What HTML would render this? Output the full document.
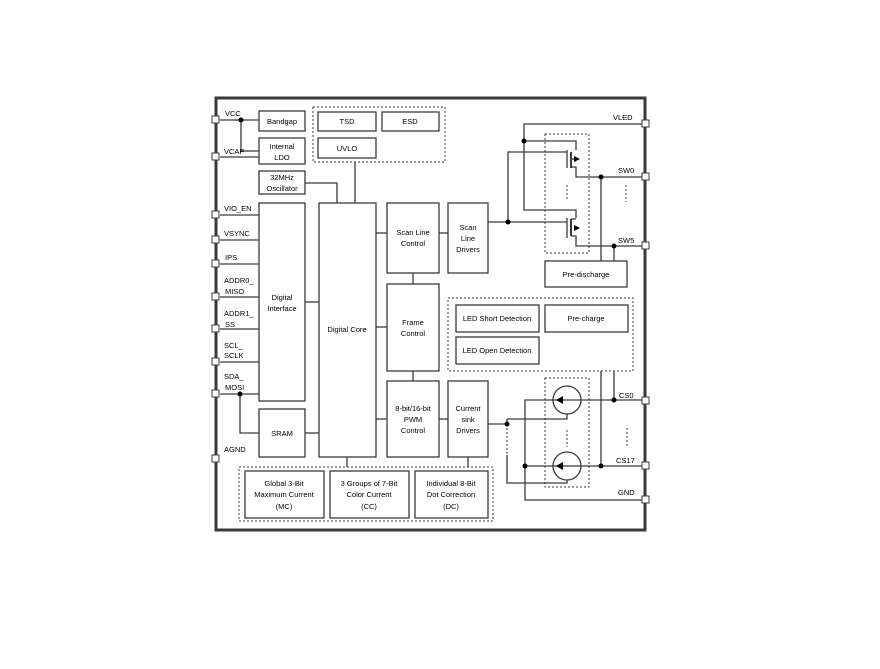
<!DOCTYPE html>
<html><head><style>
html,body{margin:0;padding:0;background:#fff;}
svg{display:block;}
text{font-family:"Liberation Sans",sans-serif;font-size:7.5px;fill:#000;}
</style></head><body>
<svg width="880" height="669" viewBox="0 0 880 669" xmlns="http://www.w3.org/2000/svg">
<g fill="none" stroke="#3a3a3a" stroke-width="1.3">
<rect x="216" y="98" width="429" height="432" stroke-width="3"/>
<!-- dotted groups -->
<g stroke-dasharray="2,2" stroke-width="1">
<rect x="313" y="107" width="132" height="55"/>
<rect x="239" y="467" width="254" height="54"/>
<rect x="448" y="298" width="185" height="73"/>
<rect x="545" y="134" width="44" height="119"/>
<rect x="545" y="378" width="44" height="109"/>
<line x1="567" y1="185" x2="567" y2="200"/>
<line x1="626" y1="185" x2="626" y2="202"/>
<line x1="627" y1="428" x2="627" y2="446"/>
<line x1="567" y1="430" x2="567" y2="447"/>
<line x1="507" y1="424" x2="507" y2="455"/>
<line x1="525" y1="420" x2="525" y2="455"/>
</g>
<!-- boxes -->
<rect x="259" y="111" width="46" height="20"/>
<rect x="259" y="138" width="46" height="26"/>
<rect x="318" y="112" width="58" height="19"/>
<rect x="382" y="112" width="57" height="19"/>
<rect x="318" y="138" width="58" height="20"/>
<rect x="259" y="171" width="46" height="23"/>
<rect x="259" y="203" width="46" height="198"/>
<rect x="319" y="203" width="57" height="254"/>
<rect x="387" y="203" width="52" height="70"/>
<rect x="387" y="284" width="52" height="87"/>
<rect x="387" y="381" width="52" height="76"/>
<rect x="448" y="203" width="40" height="70"/>
<rect x="448" y="381" width="40" height="76"/>
<rect x="259" y="409" width="46" height="48"/>
<rect x="245" y="471" width="79" height="47"/>
<rect x="330" y="471" width="79" height="47"/>
<rect x="415" y="471" width="73" height="47"/>
<rect x="456" y="305" width="83" height="27"/>
<rect x="545" y="305" width="83" height="27"/>
<rect x="456" y="337" width="83" height="27"/>
<rect x="545" y="261" width="82" height="26"/>
<!-- left wiring -->
<polyline points="220,120 259,120"/>
<polyline points="241,120 241,151 259,151"/>
<polyline points="220,157 259,157"/>
<polyline points="305,183 337,183 337,203"/>
<polyline points="355,162 355,203"/>
<line x1="220" y1="215" x2="259" y2="215"/>
<line x1="220" y1="240" x2="259" y2="240"/>
<line x1="220" y1="264" x2="259" y2="264"/>
<line x1="220" y1="297" x2="259" y2="297"/>
<line x1="220" y1="329" x2="259" y2="329"/>
<line x1="220" y1="362" x2="259" y2="362"/>
<line x1="220" y1="394" x2="259" y2="394"/>
<polyline points="240,394 240,433 259,433"/>
<line x1="305" y1="302" x2="319" y2="302"/>
<line x1="305" y1="433" x2="319" y2="433"/>
<line x1="376" y1="233" x2="387" y2="233"/>
<line x1="376" y1="327" x2="387" y2="327"/>
<line x1="376" y1="419" x2="387" y2="419"/>
<line x1="413" y1="273" x2="413" y2="284"/>
<line x1="413" y1="371" x2="413" y2="381"/>
<line x1="439" y1="233" x2="448" y2="233"/>
<line x1="439" y1="419" x2="448" y2="419"/>
<line x1="347" y1="457" x2="347" y2="467"/>
<line x1="468" y1="457" x2="468" y2="467"/>
<!-- switches -->
<polyline points="488,222 567,222"/>
<polyline points="508,222 508,152 567,152"/>
<polyline points="645,124 524,124 524,210 576,210 576,218"/>
<polyline points="524,141 576,141 576,150"/>
<line x1="567" y1="150" x2="567" y2="168"/>
<line x1="571" y1="152" x2="571" y2="168" stroke-width="2"/>
<polyline points="571,159 576,159"/>
<polyline points="571,167 576,167 576,177 645,177"/>
<line x1="567" y1="218" x2="567" y2="238"/>
<line x1="571" y1="219" x2="571" y2="236" stroke-width="2"/>
<polyline points="571,236 576,236 576,246 645,246"/>
<line x1="571" y1="219" x2="576" y2="219"/>
<line x1="601" y1="177" x2="601" y2="261"/>
<line x1="614" y1="246" x2="614" y2="261"/>
<!-- current sinks -->
<circle cx="567" cy="400" r="14"/>
<circle cx="567" cy="466" r="14"/>
<polyline points="645,400 525,400 525,500 645,500"/>
<line x1="525" y1="466" x2="645" y2="466"/>
<polyline points="488,424 507,424"/>
<polyline points="507,419 567,419 567,414"/>
<line x1="507" y1="419" x2="507" y2="424"/>
<polyline points="507,455 507,483 567,483 567,480"/>
<line x1="614" y1="400" x2="614" y2="371"/>
<line x1="601" y1="466" x2="601" y2="371"/>
</g>
<g fill="#000">
<polygon points="574,156 580,159 574,162"/>
<polygon points="574,225 580,228 574,231"/>
<polygon points="556,400 563,396 563,404"/>
<polygon points="556,466 563,462 563,470"/>
<circle cx="241" cy="120" r="2.5"/><circle cx="240" cy="394" r="2.5"/>
<circle cx="508" cy="222" r="2.5"/><circle cx="524" cy="141" r="2.5"/>
<circle cx="601" cy="177" r="2.5"/><circle cx="614" cy="246" r="2.5"/>
<circle cx="507" cy="424" r="2.5"/><circle cx="614" cy="400" r="2.5"/>
<circle cx="601" cy="466" r="2.5"/><circle cx="525" cy="466" r="2.5"/>
</g>
<!-- pins -->
<g fill="#fff" stroke="#3a3a3a" stroke-width="1">
<rect x="212" y="116" width="7" height="7"/><rect x="212" y="153" width="7" height="7"/>
<rect x="212" y="211" width="7" height="7"/><rect x="212" y="236" width="7" height="7"/>
<rect x="212" y="260" width="7" height="7"/><rect x="212" y="293" width="7" height="7"/>
<rect x="212" y="325" width="7" height="7"/><rect x="212" y="358" width="7" height="7"/>
<rect x="212" y="390" width="7" height="7"/><rect x="212" y="455" width="7" height="7"/>
<rect x="642" y="120" width="7" height="7"/><rect x="642" y="173" width="7" height="7"/>
<rect x="642" y="242" width="7" height="7"/><rect x="642" y="397" width="7" height="7"/>
<rect x="642" y="462" width="7" height="7"/><rect x="642" y="496" width="7" height="7"/>
</g>
<g>
<text x="225" y="116">VCC</text><text x="224" y="154">VCAP</text>
<text x="224" y="211">VIO_EN</text><text x="224" y="236">VSYNC</text>
<text x="225" y="260">IPS</text>
<text x="224" y="283">ADDR0_</text><text x="225" y="294">MISO</text>
<text x="224" y="316">ADDR1_</text><text x="225" y="327">SS</text>
<text x="224" y="348">SCL_</text><text x="224" y="358">SCLK</text>
<text x="224" y="379">SDA_</text><text x="225" y="390">MOSI</text>
<text x="224" y="452">AGND</text>
<text x="613" y="120">VLED</text><text x="618" y="173">SW0</text>
<text x="618" y="243">SW5</text><text x="619" y="398">CS0</text>
<text x="616" y="463">CS17</text><text x="618" y="495">GND</text>
</g>
<g text-anchor="middle">
<text x="282" y="124">Bandgap</text>
<text x="282" y="149">Internal</text><text x="282" y="160">LDO</text>
<text x="347" y="124">TSD</text><text x="410" y="124">ESD</text>
<text x="347" y="151">UVLO</text>
<text x="282" y="180">32MHz</text><text x="282" y="191">Oscillator</text>
<text x="282" y="300">Digital</text><text x="282" y="311">Interface</text>
<text x="347" y="332">Digital Core</text>
<text x="413" y="235">Scan Line</text><text x="413" y="246">Control</text>
<text x="413" y="325">Frame</text><text x="413" y="336">Control</text>
<text x="413" y="411">8-bit/16-bit</text><text x="413" y="422">PWM</text><text x="413" y="433">Control</text>
<text x="468" y="230">Scan</text><text x="468" y="241">Line</text><text x="468" y="252">Drivers</text>
<text x="468" y="411">Current</text><text x="468" y="422">sink</text><text x="468" y="433">Drivers</text>
<text x="282" y="436">SRAM</text>
<text x="284" y="486">Global 3-Bit</text><text x="284" y="497">Maximum Current</text><text x="284" y="509">(MC)</text>
<text x="369" y="486">3 Groups of 7-Bit</text><text x="369" y="497">Color Current</text><text x="369" y="509">(CC)</text>
<text x="451" y="486">Individual 8-Bit</text><text x="451" y="497">Dot Correction</text><text x="451" y="509">(DC)</text>
<text x="497" y="321">LED Short Detection</text>
<text x="586" y="321">Pre-charge</text>
<text x="497" y="353">LED Open Detection</text>
<text x="586" y="277">Pre-discharge</text>
</g>
</svg>
</body></html>
